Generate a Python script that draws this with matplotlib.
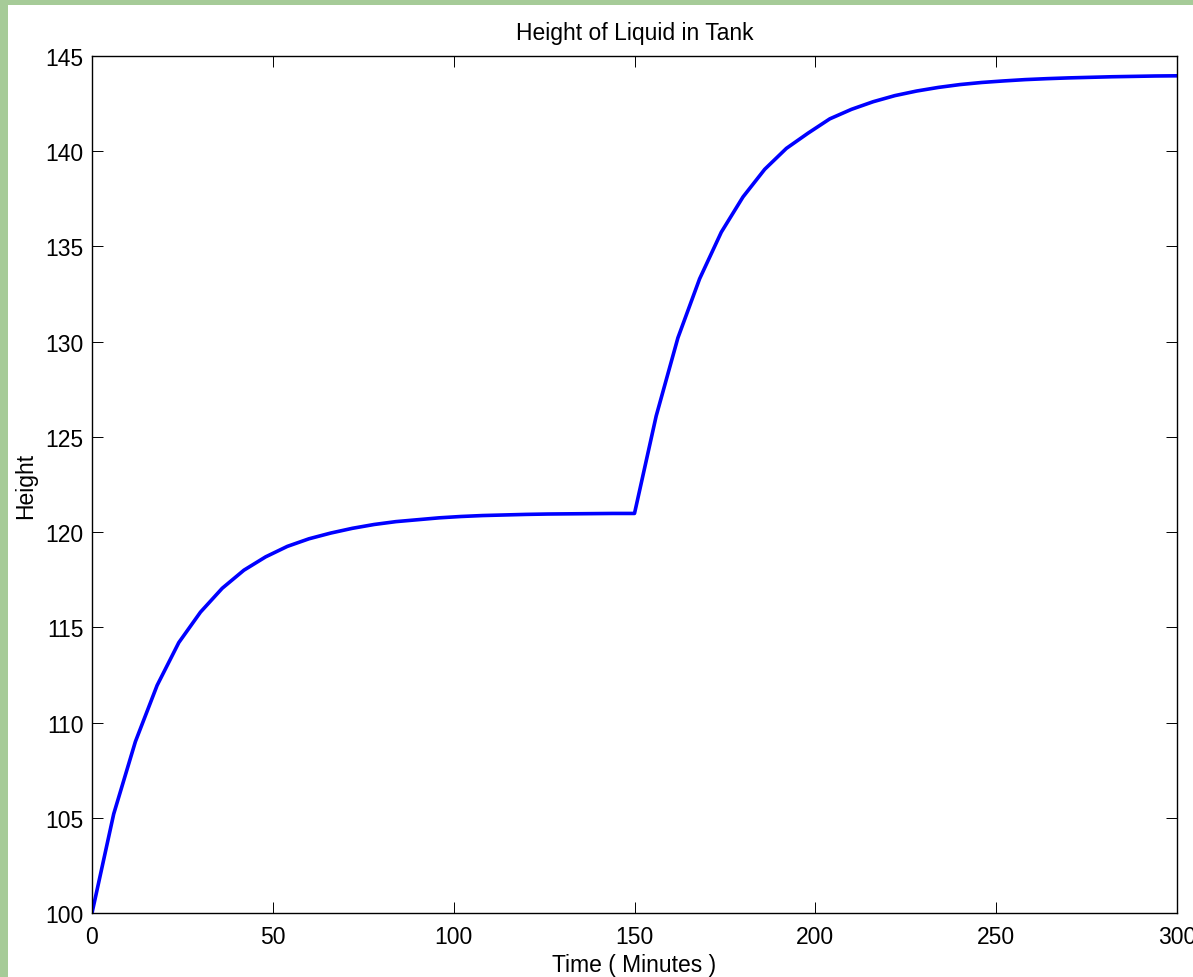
import matplotlib
matplotlib.use("Agg")
import matplotlib.pyplot as plt
from matplotlib.patches import Rectangle

# Dữ liệu: thời gian (phút) và chiều cao chất lỏng
time_min = [0, 6, 12, 18, 24, 30, 36, 42, 48, 54, 60, 66, 72, 78, 84, 90,
            96, 102, 108, 114, 120, 126, 132, 138, 144, 150,
            156, 162, 168, 174, 180, 186, 192, 198, 204, 210, 216, 222,
            228, 234, 240, 246, 252, 258, 264, 270, 276, 282, 288, 294, 300]
height = [100.0, 105.2, 109.0, 111.95, 114.2, 115.8, 117.05, 118.0, 118.7,
          119.25, 119.65, 119.95, 120.2, 120.4, 120.55, 120.65, 120.75,
          120.82, 120.87, 120.9, 120.93, 120.95, 120.96, 120.97, 120.98, 120.98,
          126.1, 130.2, 133.3, 135.75, 137.6, 139.05, 140.15, 140.95, 141.7,
          142.2, 142.6, 142.92, 143.16, 143.35, 143.5, 143.61, 143.69, 143.76,
          143.81, 143.85, 143.88, 143.91, 143.93, 143.95, 143.96]

x_ticks = [0, 50, 100, 150, 200, 250, 300]
y_ticks = [100, 105, 110, 115, 120, 125, 130, 135, 140, 145]

plt.rcParams['font.family'] = ['Liberation Sans', 'DejaVu Sans']

fig = plt.figure(figsize=(11.93, 9.78), dpi=100, facecolor='#a6cb98')
# vùng trắng của figure (viền xanh lá ở trên và bên trái)
fig.patches.append(Rectangle((8 / 1193, 0), 1, 1 - 6 / 978, transform=fig.transFigure,
                             facecolor='white', edgecolor='none', zorder=-10))

ax = fig.add_axes([92 / 1193, 64 / 978, 1085 / 1193, 857 / 978])
ax.set_zorder(1)
ax.plot(time_min, height, color='blue', linewidth=2.6)

ax.set_xlim(0, 300)
ax.set_ylim(100, 145)
ax.set_xticks(x_ticks)
ax.set_yticks(y_ticks)
ax.tick_params(direction='in', length=7.8, width=0.7, top=True, right=True,
               labelsize=16.5, colors='black')
ax.tick_params(axis='x', pad=9)
ax.tick_params(axis='y', pad=6)
for s in ax.spines.values():
    s.set_linewidth(1.0)

ax.set_title("Height of Liquid in Tank", fontsize=16.5, pad=12.5)
ax.set_xlabel("Time ( Minutes )", fontsize=16.5, labelpad=3.5)
ax.set_ylabel("Height", fontsize=16.5, labelpad=6)

fig.savefig("out.png", dpi=100)
